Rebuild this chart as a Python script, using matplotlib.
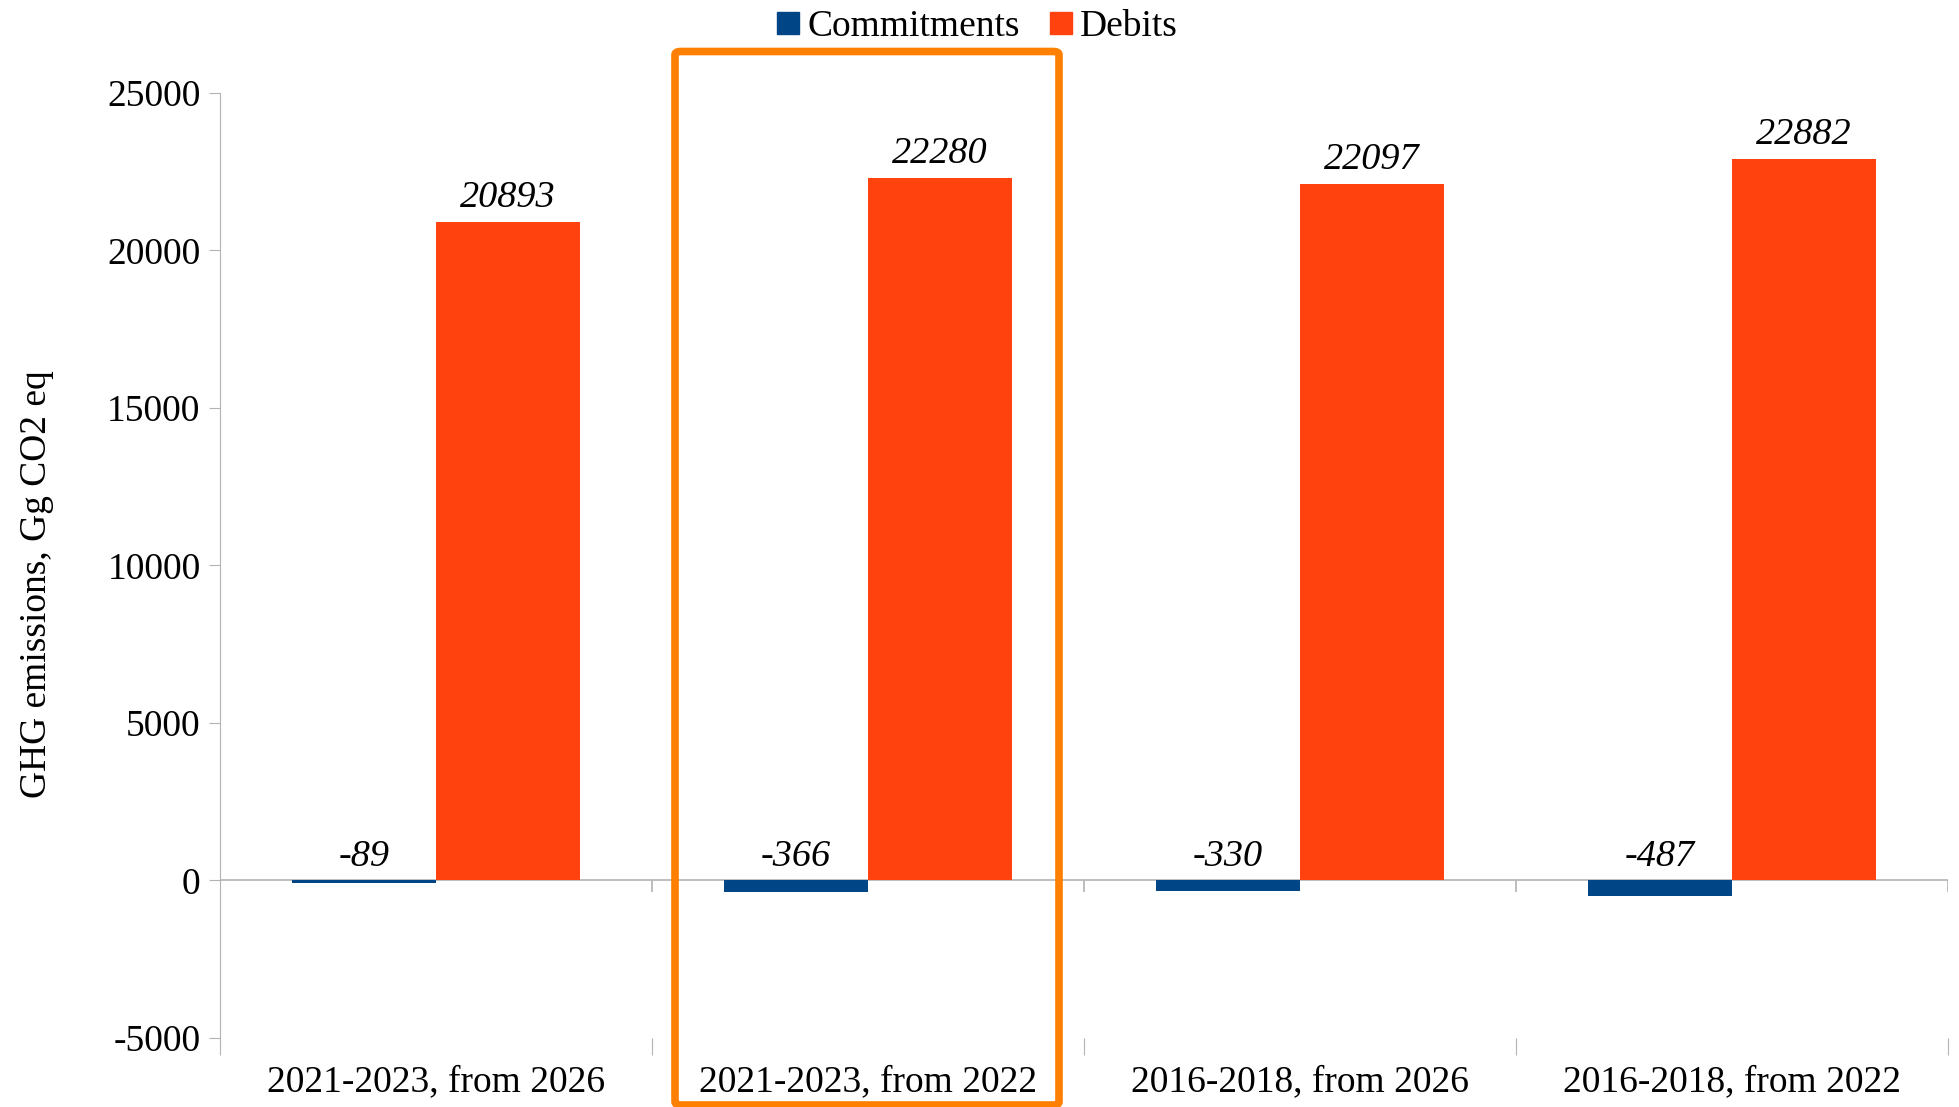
import numpy as np
import matplotlib
matplotlib.use("Agg")
import matplotlib.pyplot as plt
from matplotlib.patches import FancyBboxPatch
from matplotlib.lines import Line2D

# Chart data
categories = ["2021-2023, from 2026", "2021-2023, from 2022",
              "2016-2018, from 2026", "2016-2018, from 2022"]
series_names = ["Commitments", "Debits"]
commitments = [-89, -366, -330, -487]
debits = [20893, 22280, 22097, 22882]
colors = ["#004586", "#ff420e"]

plt.rcParams['font.family'] = ['Liberation Serif', 'DejaVu Serif']
plt.rcParams['axes.unicode_minus'] = False

fig = plt.figure(figsize=(19.59, 11.07), dpi=100)
ax = fig.add_axes([220 / 1959, 69 / 1107, 1728 / 1959, 945.3 / 1107])

x = np.arange(len(categories))
w = 1 / 3
for i, (vals, col) in enumerate(zip([commitments, debits], colors)):
    pos = x - w / 2 + i * w
    ax.bar(pos, vals, width=w, color=col, zorder=3)
    for p, v in zip(pos, vals):
        ax.annotate(str(v), (p, max(v, 0)), xytext=(0, 5), textcoords="offset points",
                    ha="center", va="bottom", fontsize=27.5, fontstyle="italic")

ax.set_xlim(-0.5, len(categories) - 0.5)
ax.set_ylim(-5000, 25000)
ax.set_yticks(np.arange(-5000, 25001, 5000))
ax.tick_params(axis="y", labelsize=27, length=8, color="#b3b3b3", pad=6)

# category boundaries as ticks at the bottom, labels centred
ax.set_xticks(np.arange(len(categories) + 1) - 0.5)
ax.set_xticklabels([])
ax.set_xticks(x, minor=True)
ax.set_xticklabels(categories, minor=True, fontsize=27)
ax.tick_params(axis="x", which="major", length=12, color="#b3b3b3", direction="out")
ax.tick_params(axis="x", which="minor", length=0, pad=19)

for s in ["top", "right", "bottom"]:
    ax.spines[s].set_visible(False)
ax.spines["left"].set_color("#b3b3b3")

# zero line with small ticks at category boundaries
ax.axhline(0, color="#b3b3b3", lw=1.2, zorder=2)
ax.vlines(np.arange(len(categories) + 1) - 0.5, -380, 0, color="#b3b3b3", lw=1.2, zorder=2)

ax.set_ylabel("GHG emissions, Gg CO2 eq", fontsize=27, labelpad=38, y=0.48)

# legend at top
handles = [Line2D([], [], marker="s", ls="", color=c, markersize=16) for c in colors]
fig.legend(handles, series_names, loc="upper center", bbox_to_anchor=(0.497, 1.022),
           ncol=2, frameon=False, fontsize=27, handletextpad=0.0, columnspacing=0.6,
           handlelength=1.0)

# orange highlight box around the second category
box = FancyBboxPatch((675 / 1959, 2 / 1107), 384 / 1959, 1053.5 / 1107,
                     boxstyle="round,pad=0,rounding_size=0.003",
                     transform=fig.transFigure, fill=False,
                     edgecolor="#ff8000", lw=5.5, clip_on=False, zorder=10)
fig.patches.append(box)

fig.savefig("out.png", dpi=100)
